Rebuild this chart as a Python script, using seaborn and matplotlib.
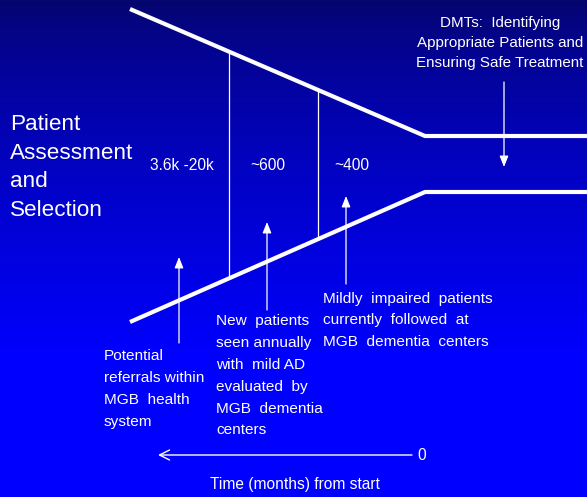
import numpy as np
import pandas as pd
import matplotlib
matplotlib.use("Agg")
import matplotlib.pyplot as plt
import seaborn as sns

# Funnel outline (canvas pixel coordinates, y grows downward)
funnel_top_x = [130, 425, 587]
funnel_top_y = [9, 136, 136]
funnel_bottom_x = [130, 425, 587]
funnel_bottom_y = [322, 192, 192]

# Stage dividers inside the funnel
divider_x = [229, 318]

# Patient counts per stage
stage_labels = ["3.6k -20k", "~600", "~400"]
stage_label_x = [182, 268, 352]

# Stage descriptions
stage_notes = [
    ["Potential", "referrals within", "MGB  health", "system"],
    ["New  patients", "seen annually", "with  mild AD", "evaluated  by",
     "MGB  dementia", "centers"],
    ["Mildly  impaired  patients", "currently  followed  at",
     "MGB  dementia  centers"],
]
note_x = [104, 216, 323]
note_first_baseline = [360.5, 325.5, 302.5]

# Upward pointers from notes into the funnel
pointer_x = [179, 267, 346]
pointer_y0 = [343, 310, 284]
pointer_y1 = [257, 222, 196]

title_lines = ["Patient", "Assessment", "and", "Selection"]
dmt_lines = ["DMTs:  Identifying", "Appropriate Patients and",
             "Ensuring Safe Treatment"]
time_label = "Time (months) from start"
time_zero = "0"

W, H = 587, 497
sns.set_theme(style="white")
plt.rcParams["font.family"] = ["Liberation Sans", "DejaVu Sans"]

fig = plt.figure(figsize=(W / 100, H / 100), dpi=100)
ax = fig.add_axes([0, 0, 1, 1])

# Vertical navy-to-blue background
yy = np.linspace(0, 1, 400)[:, None]
t = np.clip(yy * H / 360, 0, 1) ** 0.7
blue = 0.42 + 0.58 * t
grad = np.dstack([0.02 * (1 - t), 0.02 * (1 - t), blue])
grad = np.repeat(grad, 2, axis=1)
ax.imshow(grad, extent=[0, W, H, 0], aspect="auto", zorder=0)

# Funnel edges
funnel = pd.DataFrame({
    "x": funnel_top_x + funnel_bottom_x,
    "y": funnel_top_y + funnel_bottom_y,
    "edge": ["top"] * 3 + ["bottom"] * 3,
})
sns.lineplot(data=funnel, x="x", y="y", units="edge", estimator=None,
             sort=False, color="white", linewidth=3.0, ax=ax, zorder=3,
             solid_capstyle="butt")
ax.set_xlim(0, W)
ax.set_ylim(H, 0)
ax.axis("off")


def text_block(x, first_baseline, lines, spacing, size, ha="left"):
    for i, line in enumerate(lines):
        ax.text(x, first_baseline + i * spacing, line, color="white",
                fontsize=size, ha=ha, va="baseline")


# Stage dividers, clipped to funnel edges
for x in divider_x:
    ytop = np.interp(x, funnel_top_x, funnel_top_y)
    ybot = np.interp(x, funnel_bottom_x, funnel_bottom_y)
    ax.plot([x, x], [ytop, ybot], color="white", linewidth=0.9, zorder=2)

for lbl, x in zip(stage_labels, stage_label_x):
    ax.text(x, 169.5, lbl, color="white", fontsize=11.2, ha="center",
            va="baseline")

arrow_kw = dict(arrowstyle="-|>,head_length=0.55,head_width=0.22",
                color="white", linewidth=0.9, shrinkA=0, shrinkB=0)
for x, y0, y1 in zip(pointer_x, pointer_y0, pointer_y1):
    ax.annotate("", xy=(x, y1), xytext=(x, y0), arrowprops=arrow_kw, zorder=4)

for lines, x, yb in zip(stage_notes, note_x, note_first_baseline):
    text_block(x, yb, lines, 21.8, 11.1)

# Left heading
text_block(10, 130, title_lines, 28.6, 16.2)

# DMT callout
text_block(500, 27.5, dmt_lines, 19.6, 10.9, ha="center")
ax.annotate("", xy=(504, 167), xytext=(504, 82), arrowprops=arrow_kw, zorder=4)

# Time axis arrow
ax.annotate("", xy=(158, 455), xytext=(412, 455),
            arrowprops=dict(arrowstyle="->,head_length=0.6,head_width=0.3",
                            color="white", linewidth=1.0, shrinkA=0, shrinkB=0))
ax.text(422, 460, time_zero, color="white", fontsize=11.2, ha="center",
        va="baseline")
ax.text(295, 489, time_label, color="white", fontsize=11.2, ha="center",
        va="baseline")

fig.savefig("out.png", dpi=100)
